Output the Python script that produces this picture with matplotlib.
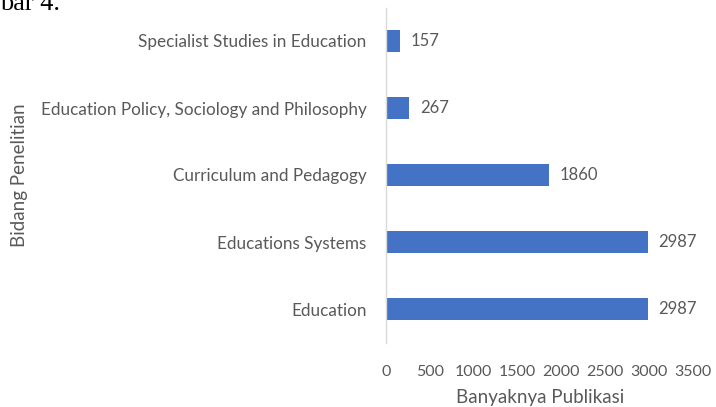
import matplotlib
matplotlib.use("Agg")
import matplotlib.pyplot as plt

categories = [
    "Education",
    "Educations Systems",
    "Curriculum and Pedagogy",
    "Education Policy, Sociology and Philosophy",
    "Specialist Studies in Education",
]
values = [2987, 2987, 1860, 267, 157]
x_ticks = [0, 500, 1000, 1500, 2000, 2500, 3000, 3500]

plt.rcParams["font.family"] = ["Lato", "DejaVu Sans"]
GRAY = "#595959"
BLUE = "#4472C4"

W, H = 716, 407
fig = plt.figure(figsize=(W / 100, H / 100), dpi=100)
ax = fig.add_axes([386 / W, 1 - 342.5 / H, (693 - 386) / W, (342.5 - 7.5) / H])

y = list(range(len(categories)))
ax.barh(y, values, height=0.33, color=BLUE)
for yi, v in zip(y, values):
    ax.text(v + 120, yi, f"{v}", va="center", ha="left", color=GRAY, fontsize=12)

ax.set_ylim(-0.5, len(categories) - 0.5)
ax.set_xlim(0, 3500)
ax.set_xticks(x_ticks)
ax.set_xticklabels([str(t) for t in x_ticks])
ax.set_yticks(y)
ax.set_yticklabels(categories)
ax.tick_params(axis="x", length=0, colors=GRAY, labelsize=11.5, pad=16)
ax.tick_params(axis="y", length=0, colors=GRAY, labelsize=12.3, pad=14)

for side in ("top", "right", "bottom"):
    ax.spines[side].set_visible(False)
ax.spines["left"].set_color("#d9d9d9")
ax.spines["left"].set_linewidth(1.0)

fig.text(540 / W, 1 - 397 / H, "Banyaknya Publikasi", color=GRAY,
         fontsize=13.5, ha="center", va="center")
fig.text(20 / W, 1 - 175 / H, "Bidang Penelitian", rotation=90, color=GRAY,
         fontsize=13.5, ha="center", va="center")

fig.text(0, 1 - 9.5 / H, "bar 4.", family="Liberation Serif", fontsize=19,
         color="black", ha="left", va="baseline")

fig.savefig("out.png", dpi=100)
